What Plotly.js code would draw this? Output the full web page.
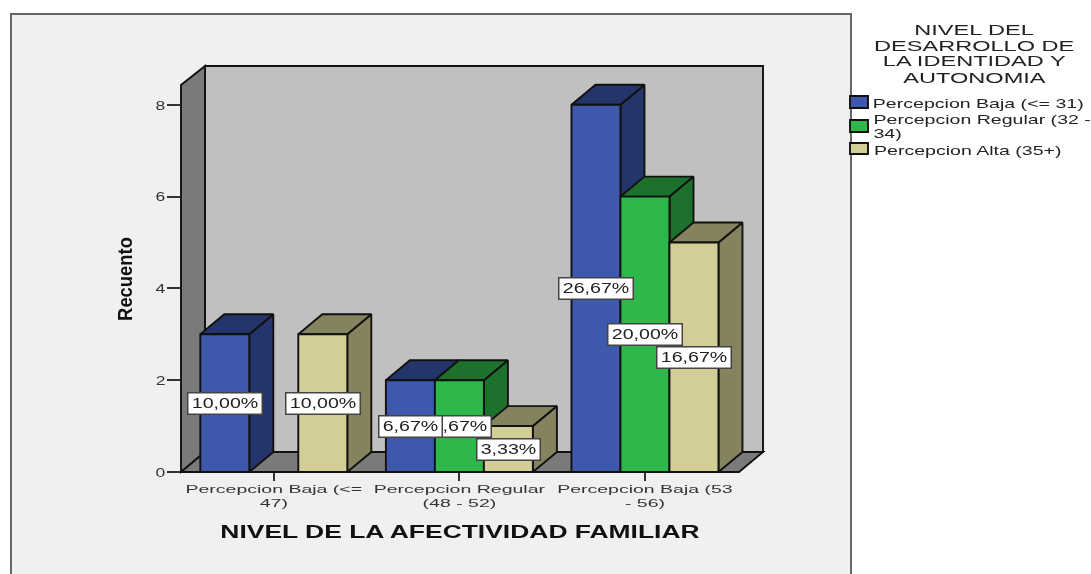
<!DOCTYPE html>
<html>
<head>
<meta charset="utf-8">
<script src="https://cdn.plot.ly/plotly-3.0.1.min.js"></script>
<style>
html,body{margin:0;padding:0;background:#fff;overflow:hidden}
#chart{filter:blur(.45px)}
.annotation-text{transform-box:fill-box;transform-origin:center;transform:scaleX(1.4)}
.annotation[data-index="8"] .annotation-text,.annotation[data-index="9"] .annotation-text,
.annotation[data-index="10"] .annotation-text,.annotation[data-index="11"] .annotation-text{transform:scaleX(1.52)}
.annotation[data-index="12"] .annotation-text,.annotation[data-index="13"] .annotation-text,
.annotation[data-index="14"] .annotation-text,.annotation[data-index="15"] .annotation-text{transform:scaleX(1.565)}
g.xtick{transform-box:fill-box;transform-origin:center top;transform:translateY(-2px) scale(1.5,.84)}
g.ytick{transform-box:fill-box;transform-origin:center;transform:scaleX(1.3)}
.g-xtitle{transform-box:fill-box;transform-origin:center;transform:translateX(-12px) scaleX(1.47)}
.g-ytitle{transform-box:fill-box;transform-origin:center;transform:translateY(10px) scaleY(.92)}
</style>
</head>
<body>
<div id="chart" style="width:1091px;height:574px"></div>
<script>
const categories = ["Percepcion Baja (<=<br>47)", "Percepcion Regular<br>(48 - 52)", "Percepcion Baja (53<br>- 56)"];
const seriesNames = ["Percepcion Baja (<= 31)", "Percepcion Regular (32 - 34)", "Percepcion Alta (35+)"];
const valuesBaja = [3, 2, 8];
const valuesRegular = [null, 2, 6];
const valuesAlta = [3, 1, 5];
const labelsBaja = ["10,00%", "6,67%", "26,67%"];
const labelsRegular = [null, "6,67%", "20,00%"];
const labelsAlta = ["10,00%", "3,33%", "16,67%"];
const frontColors = ["#3e58ac", "#2fb84a", "#d3ce97"];
const darkColors = ["#24356b", "#1c722c", "#85825e"];
const legendTitleLines = ["NIVEL DEL", "DESARROLLO DE", "LA IDENTIDAD Y", "AUTONOMIA"];
const yTicks = [0, 2, 4, 6, 8];

const allValues = [valuesBaja, valuesRegular, valuesAlta];
const allLabels = [labelsBaja, labelsRegular, labelsAlta];
const barW = 0.264, depthX = 0.1294, depthY = 0.436;
const edge = "#111111", edgeW = 1.9, font = "Liberation Sans, Arial, sans-serif";

// Plot frame in pixels, used to place the frame decorations
const L = 181, R = 763, T = 66, B = 472;
const px = x => (x - L) / (R - L);
const py = y => (B - y) / (B - T);

const traces = [];
// Depth faces, behind every front face
allValues.forEach((vals, s) => {
  vals.forEach((v, i) => {
    if (v === null) return;
    const l = i + (s - 1) * barW - barW / 2, r = l + barW;
    const face = (x, y) => ({
      type: "scatter", mode: "lines", x, y, fill: "toself", fillcolor: darkColors[s],
      line: {color: edge, width: edgeW}, showlegend: false, hoverinfo: "skip"
    });
    traces.push(face([r, r, r + depthX, r + depthX, r], [0, v, v + depthY, depthY, 0]));
    traces.push(face([l, r, r + depthX, l + depthX, l], [v, v, v + depthY, v + depthY, v]));
  });
});
// Front faces
allValues.forEach((vals, s) => {
  traces.push({
    type: "bar", name: seriesNames[s], x: [0, 1, 2], y: vals, xaxis: "x2", yaxis: "y2",
    marker: {color: frontColors[s], line: {color: edge, width: edgeW}}, cliponaxis: false,
    showlegend: false
  });
});

const shapes = [
  {type: "rect", xref: "paper", yref: "paper", layer: "below", x0: px(11), x1: px(851), y0: py(14), y1: py(576),
   fillcolor: "#f0f0f0", line: {color: "#666", width: 2}},
  {type: "rect", xref: "paper", yref: "paper", layer: "below", x0: px(205), x1: px(763), y0: py(66), y1: py(452),
   fillcolor: "#c0c0c0", line: {color: edge, width: edgeW}},
  {type: "path", xref: "paper", yref: "paper", layer: "below",
   path: `M${px(181)},${py(472)}L${px(181)},${py(85)}L${px(205)},${py(66)}L${px(205)},${py(452)}Z`,
   fillcolor: "#7a7a7a", line: {color: edge, width: edgeW}},
  {type: "path", xref: "paper", yref: "paper", layer: "below",
   path: `M${px(181)},${py(472)}L${px(739)},${py(472)}L${px(763)},${py(452)}L${px(205)},${py(452)}Z`,
   fillcolor: "#7a7a7a", line: {color: edge, width: edgeW}}
];
[[96, 108], [120, 132], [143, 154]].forEach((yy, s) => shapes.push({
  type: "rect", xref: "paper", yref: "paper", x0: px(850), x1: px(868), y0: py(yy[0]), y1: py(yy[1]),
  fillcolor: frontColors[s], line: {color: edge, width: edgeW}
}));

const annotations = [];
// Value boxes: the first series is painted last
[2, 1, 0].forEach(s => allLabels[s].forEach((t, i) => {
  if (t === null) return;
  annotations.push({
    x: i + (s - 1) * barW, y: allValues[s][i] / 2, xref: "x", yref: "y", text: t, showarrow: false,
    font: {family: font, size: 14, color: "#222"}, bgcolor: "#fff", bordercolor: "#444", borderwidth: 1.5,
    borderpad: 2, width: t.length > 5 ? 69 : 58, height: 16, xanchor: "center", yanchor: "middle"
  });
}));
const paperText = (text, cx, cy, size) => ({
  x: px(cx), y: py(cy), xref: "paper", yref: "paper", text, showarrow: false, xanchor: "center", yanchor: "middle",
  font: {family: font, size, color: "#222"}
});
legendTitleLines.forEach((t, i) => annotations.push(paperText(t, 974, 29 + i * 16, 15.5)));
annotations.push(paperText("Percepcion Baja (<= 31)", 978, 103, 12.5));
annotations.push(paperText("Percepcion Regular (32 -", 981.5, 119, 12.5));
annotations.push(paperText("34)", 887, 133, 12.5));
annotations.push(paperText("Percepcion Alta (35+)", 968, 150, 12.5));

const layout = {
  width: 1091, height: 574, margin: {l: L, r: 1091 - R, t: T, b: 574 - B},
  paper_bgcolor: "#fff", plot_bgcolor: "rgba(0,0,0,0)", showlegend: false,
  barmode: "group", bargap: 0.208, bargroupgap: 0, shapes, annotations,
  xaxis: {
    range: [-0.5, 2.636], tickmode: "array", tickvals: [0, 1, 2], ticktext: categories, tickangle: 0,
    ticks: "outside", ticklen: 8, tickwidth: 1.5, tickcolor: "#333", showgrid: false, zeroline: false, showline: false,
    tickfont: {family: font, size: 13, color: "#333"},
    title: {text: "NIVEL DE LA AFECTIVIDAD FAMILIAR", standoff: 17, font: {family: font, size: 18, weight: 700, color: "#111"}}
  },
  yaxis: {
    range: [0, 8.845], tickmode: "array", tickvals: yTicks, ticks: "outside", ticklen: 13, tickwidth: 1.5, tickcolor: "#333",
    showgrid: false, zeroline: false, showline: false, tickfont: {family: font, size: 13.5, color: "#333"},
    title: {text: "Recuento", standoff: 17, font: {family: font, size: 20, weight: 700, color: "#111"}}
  },
  xaxis2: {overlaying: "x", range: [-0.5, 2.636], visible: false},
  yaxis2: {overlaying: "y", range: [0, 8.845], visible: false}
};
Plotly.newPlot("chart", traces, layout, {displayModeBar: false});
</script>
</body>
</html>
